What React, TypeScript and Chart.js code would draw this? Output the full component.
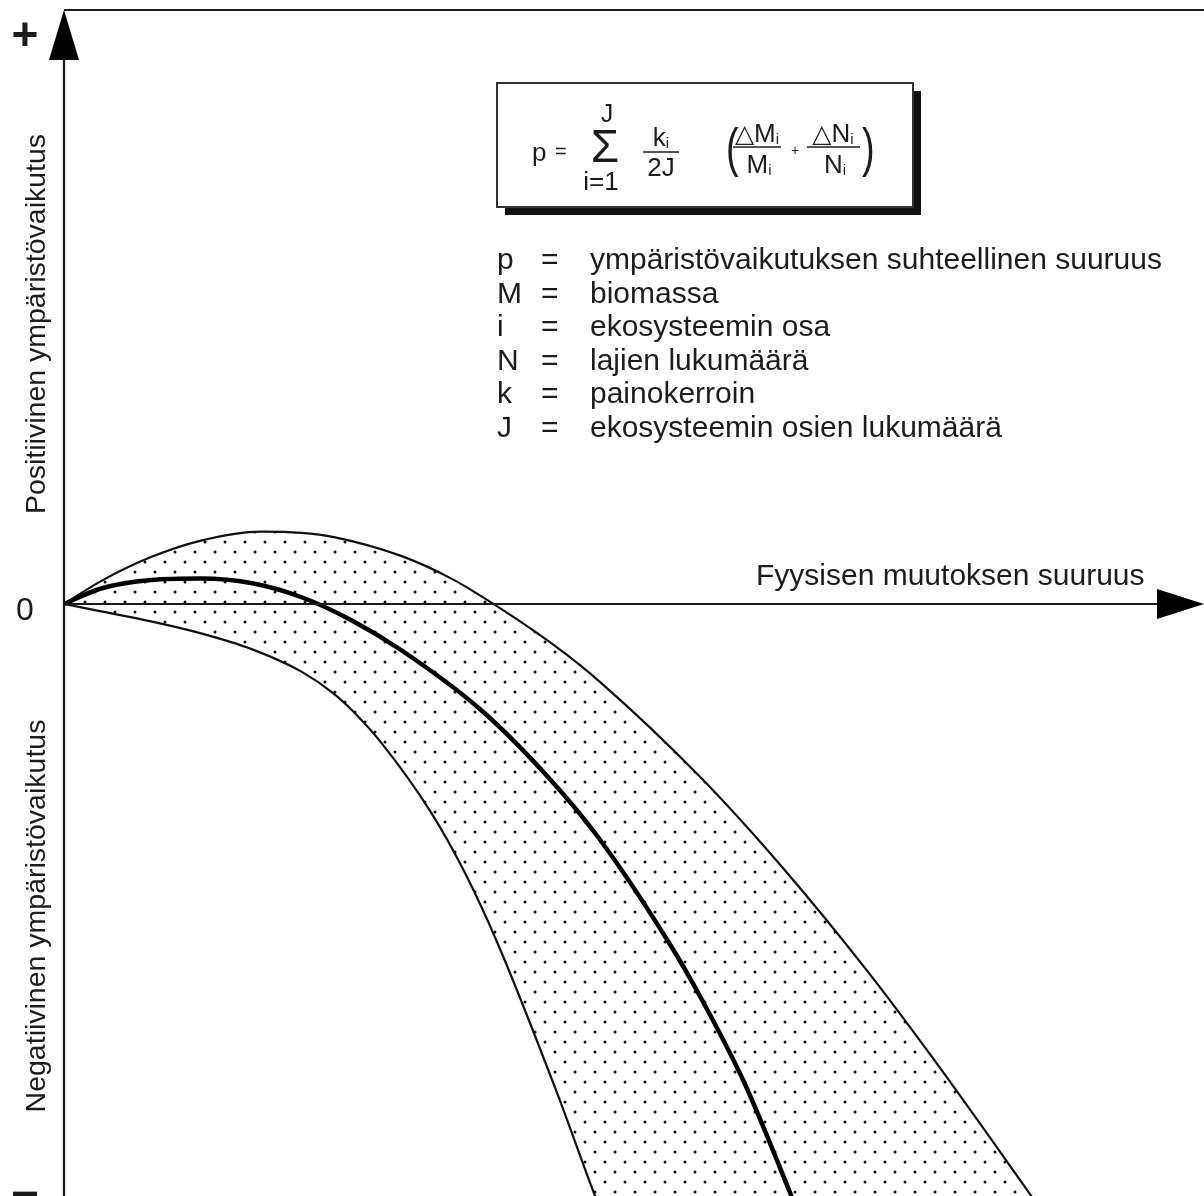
import React, { useEffect, useRef } from "react";
import { Chart, registerables } from "chart.js";

Chart.register(...registerables);

// ---- Data (arbitrary units: x = physical change, y = environmental effect) ----
const X_MIN = 0;
const X_MAX = 114.0;
const Y_MIN = -59.2;
const Y_MAX = 59.4;

// upper boundary of the uncertainty band
const upperX = [0, 3.7, 8.7, 13.7, 19.7, 23.7, 27.0, 33.7, 38.7, 42.7, 49.0, 53.7, 63.7, 71.7, 80.4, 87.0, 96.4, 99.7];
const upperY = [0, 2.29, 4.69, 6.34, 7.24, 7.12, 6.69, 4.81, 2.56, 0.16, -4.12, -7.88, -17.38, -26.18, -36.79, -45.57, -58.73, -63.42];

// central (expected) response
const middleX = [0, 3.7, 8.7, 13.7, 18.7, 23.7, 28.7, 33.7, 41.7, 48.4, 53.4, 60.7, 63.7, 68.0, 72.7, 73.7];
const middleY = [0, 1.55, 2.4, 2.55, 2.1, 0.7, -1.6, -4.6, -10.6, -17.3, -23.3, -34.2, -39.4, -47.8, -59.1, -61.6];

// lower boundary of the uncertainty band (continues below the visible frame)
const lowerX = [0, 3.7, 8.7, 13.7, 18.7, 23.7, 27.0, 29.0, 31.7, 36.7, 40.0, 43.4, 49.4, 53.0, 54.2, 57.0, 99.7];
const lowerY = [0, -0.74, -1.74, -2.94, -4.49, -6.74, -8.98, -10.82, -13.84, -20.84, -26.71, -34.02, -49.14, -58.93, -62.2, -100, -100];

// ---- Texts ----
const signPlus = "+";
const signZero = "0";
const signMinus = "\u2212";
const yTitlePositive = "Positiivinen ympäristövaikutus";
const yTitleNegative = "Negatiivinen ympäristövaikutus";
const xTitle = "Fyysisen muutoksen suuruus";
const legendSymbols = ["p", "M", "i", "N", "k", "J"];
const legendTexts = [
  "ympäristövaikutuksen suhteellinen suuruus",
  "biomassa",
  "ekosysteemin osa",
  "lajien lukumäärä",
  "painokerroin",
  "ekosysteemin osien lukumäärä",
];

const FONT = '"Liberation Sans", Arial, Helvetica, sans-serif';
const TRI_FONT = '"DejaVu Sans", sans-serif';
const INK = "#1c1c1c";

function zip(xs: number[], ys: number[]) {
  return xs.map((x, i) => ({ x, y: ys[i] }));
}

function makeDotPattern(ctx: CanvasRenderingContext2D) {
  const tile = document.createElement("canvas");
  tile.width = 20;
  tile.height = 20;
  const t = tile.getContext("2d")!;
  t.fillStyle = "#111";
  for (const [cx, cy] of [
    [5, 2],
    [15, 12],
  ]) {
    t.beginPath();
    t.arc(cx, cy, 1.5, 0, Math.PI * 2);
    t.fill();
  }
  return ctx.createPattern(tile, "repeat") as CanvasPattern;
}

type Part = { t: string; size: number; dy?: number; font?: string };

function runWidth(ctx: CanvasRenderingContext2D, parts: Part[]) {
  let w = 0;
  for (const p of parts) {
    ctx.font = `${p.size}px ${p.font || FONT}`;
    w += ctx.measureText(p.t).width;
  }
  return w;
}

function drawRun(ctx: CanvasRenderingContext2D, parts: Part[], cx: number, baseline: number) {
  let x = cx - runWidth(ctx, parts) / 2;
  ctx.textAlign = "left";
  ctx.textBaseline = "alphabetic";
  for (const p of parts) {
    ctx.font = `${p.size}px ${p.font || FONT}`;
    ctx.fillText(p.t, x, baseline + (p.dy || 0));
    x += ctx.measureText(p.t).width;
  }
}

function hline(ctx: CanvasRenderingContext2D, x1: number, x2: number, y: number, w: number) {
  ctx.lineWidth = w;
  ctx.beginPath();
  ctx.moveTo(x1, y);
  ctx.lineTo(x2, y);
  ctx.stroke();
}

function tallGlyph(ctx: CanvasRenderingContext2D, ch: string, x: number, baseline: number, size: number, sy: number) {
  ctx.save();
  ctx.translate(x, baseline);
  ctx.scale(1, sy);
  ctx.font = `${size}px ${FONT}`;
  ctx.textAlign = "left";
  ctx.textBaseline = "alphabetic";
  ctx.fillText(ch, 0, 0);
  ctx.restore();
}

const decorPlugin = {
  id: "decor",
  beforeDraw(chart: any) {
    const { ctx, width, height } = chart;
    ctx.save();
    ctx.fillStyle = "#ffffff";
    ctx.fillRect(0, 0, width, height);
    ctx.restore();
  },
  afterDatasetsDraw(chart: any) {
    const { ctx, chartArea: a, scales } = chart;
    const x0 = scales.x.getPixelForValue(0);
    const y0 = scales.y.getPixelForValue(0);
    ctx.save();
    ctx.strokeStyle = INK;
    ctx.fillStyle = "#000";
    ctx.lineCap = "butt";
    // top frame line
    hline(ctx, x0, a.right, a.top, 2.2);
    // y axis
    ctx.lineWidth = 2.2;
    ctx.beginPath();
    ctx.moveTo(x0, a.top + 40);
    ctx.lineTo(x0, a.bottom);
    ctx.stroke();
    ctx.beginPath();
    ctx.moveTo(x0, a.top);
    ctx.lineTo(x0 - 15, a.top + 50);
    ctx.lineTo(x0 + 15, a.top + 50);
    ctx.closePath();
    ctx.fill();
    // x axis
    hline(ctx, x0, a.right - 40, y0, 2.2);
    ctx.beginPath();
    ctx.moveTo(a.right, y0);
    ctx.lineTo(a.right - 47, y0 - 15);
    ctx.lineTo(a.right - 47, y0 + 15);
    ctx.closePath();
    ctx.fill();
    ctx.restore();
  },
  afterDraw(chart: any) {
    const { ctx, scales } = chart;
    const y0 = scales.y.getPixelForValue(0);
    ctx.save();
    ctx.fillStyle = INK;
    ctx.strokeStyle = INK;

    // signs on the y axis
    ctx.textAlign = "center";
    ctx.textBaseline = "alphabetic";
    ctx.font = `bold 46px ${FONT}`;
    ctx.fillText(signPlus, 25, 50);
    ctx.font = `32px ${FONT}`;
    ctx.fillText(signZero, 25, y0 + 16);
    ctx.font = `bold 48px ${FONT}`;
    ctx.fillText(signMinus, 25, 1210);

    // rotated axis titles
    ctx.font = `28.5px ${FONT}`;
    for (const [txt, cy] of [
      [yTitlePositive, 324],
      [yTitleNegative, 916],
    ] as [string, number][]) {
      ctx.save();
      ctx.translate(45, cy);
      ctx.rotate(-Math.PI / 2);
      ctx.textAlign = "center";
      ctx.fillText(txt, 0, 0);
      ctx.restore();
    }

    // x axis title
    ctx.textAlign = "left";
    ctx.font = `30px ${FONT}`;
    ctx.fillText(xTitle, 756, y0 - 19);

    // formula box with drop shadow
    ctx.fillStyle = "#111";
    ctx.fillRect(505, 91, 416, 124);
    ctx.fillStyle = "#fff";
    ctx.fillRect(497, 83, 416, 124);
    ctx.lineWidth = 2;
    ctx.strokeStyle = "#333";
    ctx.strokeRect(497, 83, 416, 124);
    ctx.fillStyle = INK;
    ctx.strokeStyle = INK;

    ctx.textAlign = "left";
    ctx.font = `26px ${FONT}`;
    ctx.fillText("p", 532, 161);
    ctx.font = `20px ${FONT}`;
    ctx.fillText("=", 555, 158);
    drawRun(ctx, [{ t: "\u03A3", size: 46 }], 605, 162);
    drawRun(ctx, [{ t: "J", size: 25 }], 607, 122);
    drawRun(ctx, [{ t: "i=1", size: 26 }], 601, 190);
    // k_i / 2J
    drawRun(ctx, [{ t: "k", size: 26 }, { t: "i", size: 15, dy: 2 }], 661, 146);
    hline(ctx, 643, 679, 152, 1.6);
    drawRun(ctx, [{ t: "2J", size: 26 }], 661, 176);
    // parentheses (tall, thin)
    tallGlyph(ctx, "(", 726, 166, 38, 1.42);
    tallGlyph(ctx, ")", 862, 166, 38, 1.42);
    // ΔM_i / M_i
    drawRun(
      ctx,
      [
        { t: "\u25B3", size: 25, font: TRI_FONT },
        { t: "M", size: 26 },
        { t: "i", size: 15, dy: 2 },
      ],
      757,
      142
    );
    hline(ctx, 733, 781, 147, 1.6);
    drawRun(ctx, [{ t: "M", size: 26 }, { t: "i", size: 15, dy: 2 }], 759, 173);
    drawRun(ctx, [{ t: "+", size: 14 }], 795, 155);
    // ΔN_i / N_i
    drawRun(
      ctx,
      [
        { t: "\u25B3", size: 25, font: TRI_FONT },
        { t: "N", size: 26 },
        { t: "i", size: 15, dy: 2 },
      ],
      833,
      142
    );
    hline(ctx, 807, 860, 147, 1.6);
    drawRun(ctx, [{ t: "N", size: 26 }, { t: "i", size: 15, dy: 2 }], 835, 173);

    // legend of symbols
    ctx.textAlign = "left";
    ctx.font = `30px ${FONT}`;
    legendSymbols.forEach((s, i) => {
      const b = 269 + i * 33.6;
      ctx.fillText(s, 497, b);
      ctx.fillText("=", 541, b);
      ctx.fillText(legendTexts[i], 590, b);
    });

    ctx.restore();
  },
};

export default function App() {
  const ref = useRef<HTMLCanvasElement | null>(null);

  useEffect(() => {
    const canvas = ref.current!;
    const ctx = canvas.getContext("2d")!;
    const pattern = makeDotPattern(ctx);
    const chart = new Chart(canvas, {
      type: "line",
      data: {
        datasets: [
          {
            label: "upper",
            data: zip(upperX, upperY),
            borderColor: "#111",
            borderWidth: 2.2,
            backgroundColor: pattern as any,
            fill: 2,
            pointRadius: 0,
            cubicInterpolationMode: "monotone",
          },
          {
            label: "middle",
            data: zip(middleX, middleY),
            borderColor: "#000",
            borderWidth: 4.5,
            fill: false,
            pointRadius: 0,
            cubicInterpolationMode: "monotone",
          },
          {
            label: "lower",
            data: zip(lowerX, lowerY),
            borderColor: "#111",
            borderWidth: 2.2,
            fill: false,
            pointRadius: 0,
            cubicInterpolationMode: "monotone",
          },
        ],
      },
      options: {
        responsive: false,
        animation: false,
        devicePixelRatio: 1,
        layout: { padding: { left: 64, top: 10, right: 0, bottom: 0 } },
        elements: { line: { capBezierPoints: false } },
        scales: {
          x: { type: "linear", min: X_MIN, max: X_MAX, display: false },
          y: { type: "linear", min: Y_MIN, max: Y_MAX, display: false },
        },
        plugins: {
          legend: { display: false },
          tooltip: { enabled: false },
          filler: { drawTime: "beforeDatasetsDraw" } as any,
        },
        events: [],
      },
      plugins: [decorPlugin],
    });
    return () => chart.destroy();
  }, []);

  return (
    <div style={{ position: "absolute", left: 0, top: 0, width: 1204, height: 1196 }}>
      <canvas ref={ref} width={1204} height={1196} style={{ width: 1204, height: 1196, display: "block" }} />
    </div>
  );
}
